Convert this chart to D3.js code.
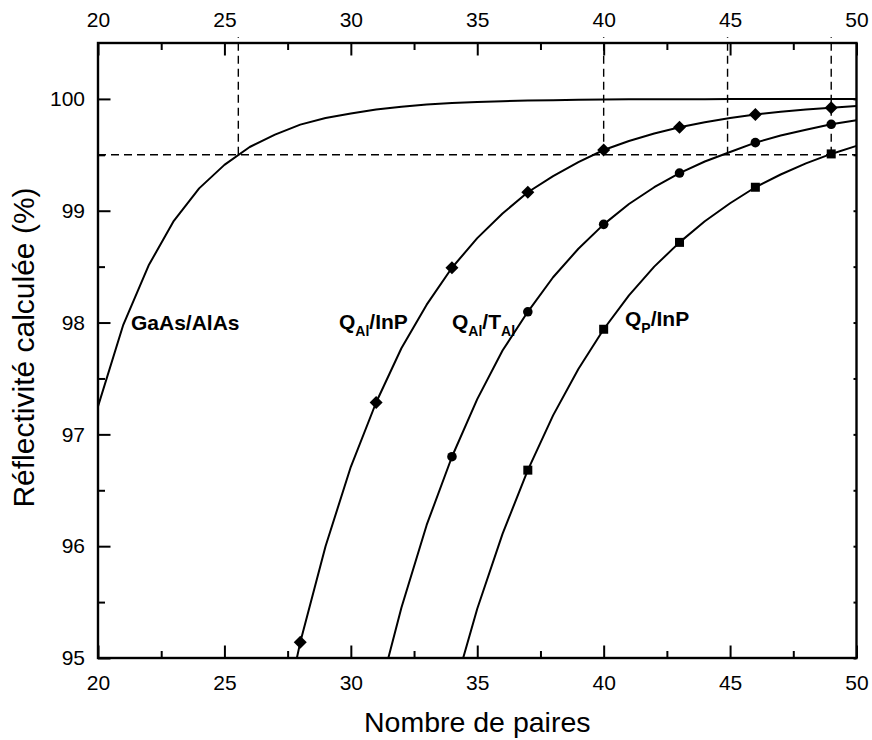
<!DOCTYPE html>
<html>
<head>
<meta charset="utf-8">
<script src="https://cdn.jsdelivr.net/npm/d3@7"></script>
<style>
  html, body { margin: 0; padding: 0; background: #fff; }
  svg { display: block; font-family: "Liberation Sans", Arial, sans-serif; }
</style>
</head>
<body>
<svg id="chart" width="872" height="740"></svg>
<script>
// Calculated reflectivity (%) versus number of mirror pairs
const gaasPairs = [20,21,22,23,24,25,26,27,28,29,30,31,32,33,34,35,36,37,38,39,40,41,42,43,44,45,46,47,48,49,50];
const gaasR     = [97.25,97.98,98.51,98.91,99.20,99.41,99.57,99.68,99.77,99.83,99.87,99.905,99.93,99.95,99.963,99.973,99.98,99.985,99.989,99.992,99.994,99.996,99.997,99.998,99.998,99.999,99.999,100,100,100,100];

const qalInpPairs = [27,28,29,30,31,32,33,34,35,36,37,38,39,40,41,42,43,44,45,46,47,48,49,50];
const qalInpR     = [94.10,95.14,96.00,96.71,97.285,97.77,98.16,98.49,98.755,98.975,99.165,99.31,99.435,99.543,99.624,99.69,99.747,99.792,99.829,99.86,99.885,99.905,99.922,99.936];
const qalInpMarkers = [28,31,34,37,40,43,46,49];

const qalTalPairs = [31,32,33,34,35,36,37,38,39,40,41,42,43,44,45,46,47,48,49,50];
const qalTalR     = [94.58,95.45,96.19,96.80,97.315,97.75,98.096,98.405,98.66,98.878,99.06,99.21,99.337,99.44,99.525,99.609,99.672,99.725,99.773,99.81];
const qalTalMarkers = [34,37,40,43,46,49];

const qpInpPairs = [34,35,36,37,38,39,40,41,42,43,44,45,46,47,48,49,50];
const qpInpR     = [94.65,95.44,96.11,96.68,97.17,97.585,97.94,98.243,98.50,98.717,98.906,99.067,99.21,99.324,99.423,99.508,99.58];
const qpInpMarkers = [37,40,43,46,49];

// Guide lines: 99.5 % level and the pair counts where each mirror reaches it
const targetR = 99.5;
const guidePairs = [25.55, 40, 44.9, 49];

const xTicks = [20,25,30,35,40,45,50];
const xMinor = [22.5,27.5,32.5,37.5,42.5,47.5];
const yTicks = [95,96,97,98,99,100];
const yMinor = [95.5,96.5,97.5,98.5,99.5];

const xLabel = "Nombre de paires";
const yLabel = "Réflectivité calculée (%)";

const W = 872, H = 740;
const m = { left: 98, right: 15.5, top: 43, bottom: 82 };
const svg = d3.select("#chart");

const x = d3.scaleLinear().domain([20, 50]).range([m.left, W - m.right]);
const y = d3.scaleLinear().domain([95, 100.5]).range([H - m.bottom, m.top]);

svg.append("defs").append("clipPath").attr("id", "plot")
  .append("rect")
  .attr("x", m.left).attr("y", m.top)
  .attr("width", W - m.left - m.right).attr("height", H - m.top - m.bottom);

// Dashed guides
const guides = svg.append("g")
  .attr("stroke", "#000").attr("stroke-width", 1.4)
  .attr("stroke-dasharray", "8,5").attr("fill", "none");
guides.append("line")
  .attr("x1", x(20)).attr("x2", x(50))
  .attr("y1", y(targetR)).attr("y2", y(targetR));
guides.selectAll("line.v").data(guidePairs).join("line")
  .attr("class", "v")
  .attr("x1", d => x(d)).attr("x2", d => x(d))
  .attr("y1", y(targetR)).attr("y2", m.top - 6);

// Curves
const line = d3.line().x(d => x(d[0])).y(d => y(d[1]));
const zip = (a, b) => a.map((v, i) => [v, b[i]]);
const curves = [
  zip(gaasPairs, gaasR),
  zip(qalInpPairs, qalInpR),
  zip(qalTalPairs, qalTalR),
  zip(qpInpPairs, qpInpR)
];
svg.append("g").attr("clip-path", "url(#plot)")
  .selectAll("path").data(curves).join("path")
  .attr("d", line)
  .attr("fill", "none").attr("stroke", "#000").attr("stroke-width", 2)
  .attr("stroke-linejoin", "round");

// Markers
const valueAt = (pairs, vals, n) => vals[pairs.indexOf(n)];
const mk = svg.append("g").attr("fill", "#000");
mk.selectAll("path.diamond").data(qalInpMarkers).join("path")
  .attr("class", "diamond")
  .attr("transform", d => `translate(${x(d)},${y(valueAt(qalInpPairs, qalInpR, d))})`)
  .attr("d", "M0,-6.5L6.5,0L0,6.5L-6.5,0Z");
mk.selectAll("circle").data(qalTalMarkers).join("circle")
  .attr("cx", d => x(d)).attr("cy", d => y(valueAt(qalTalPairs, qalTalR, d)))
  .attr("r", 4.8);
mk.selectAll("rect").data(qpInpMarkers).join("rect")
  .attr("x", d => x(d) - 4.5).attr("y", d => y(valueAt(qpInpPairs, qpInpR, d)) - 4.5)
  .attr("width", 9).attr("height", 9);

// Axes
function styleAxis(g) {
  g.select(".domain").remove();
  g.selectAll(".tick line").attr("stroke", "#000").attr("stroke-width", 2);
  g.selectAll("text").attr("font-size", 21).attr("fill", "#000");
}
const bottom = H - m.bottom, right = W - m.right;

svg.append("g").attr("transform", `translate(0,${bottom})`)
  .call(d3.axisBottom(x).tickValues(xTicks).tickSize(-12.5).tickPadding(17).tickFormat(d3.format("d")))
  .call(styleAxis);
svg.append("g").attr("transform", `translate(0,${bottom})`)
  .call(d3.axisBottom(x).tickValues(xMinor).tickSize(-7).tickFormat(""))
  .call(styleAxis);

svg.append("g").attr("transform", `translate(0,${m.top})`)
  .call(d3.axisTop(x).tickValues(xTicks).tickSize(-12.5).tickPadding(16).tickFormat(d3.format("d")))
  .call(styleAxis);
svg.append("g").attr("transform", `translate(0,${m.top})`)
  .call(d3.axisTop(x).tickValues(xMinor).tickSize(-7).tickFormat(""))
  .call(styleAxis);

svg.append("g").attr("transform", `translate(${m.left},0)`)
  .call(d3.axisLeft(y).tickValues(yTicks).tickSize(-12.5).tickPadding(13).tickFormat(d3.format("d")))
  .call(styleAxis);
svg.append("g").attr("transform", `translate(${m.left},0)`)
  .call(d3.axisLeft(y).tickValues(yMinor).tickSize(-7).tickFormat(""))
  .call(styleAxis);

svg.append("g").attr("transform", `translate(${right},0)`)
  .call(d3.axisRight(y).tickValues(yTicks.concat(yMinor)).tickSize(-3).tickFormat(""))
  .call(styleAxis);

// Frame
svg.append("rect")
  .attr("x", m.left).attr("y", m.top)
  .attr("width", right - m.left).attr("height", bottom - m.top)
  .attr("fill", "none").attr("stroke", "#000").attr("stroke-width", 2.4);

// Axis titles
svg.append("text")
  .attr("x", (m.left + right) / 2).attr("y", 732)
  .attr("text-anchor", "middle").attr("font-size", 28.5)
  .text(xLabel);
svg.append("text")
  .attr("transform", `translate(34,${(m.top + bottom) / 2 - 3}) rotate(-90)`)
  .attr("text-anchor", "middle").attr("font-size", 30)
  .text(yLabel);

// Series labels
const labels = [
  { x: 131, y: 330, parts: [["GaAs/AlAs", 0]] },
  { x: 339, y: 329, parts: [["Q", 0], ["Al", 1], ["/InP", 0]] },
  { x: 452, y: 329, parts: [["Q", 0], ["Al", 1], ["/T", 0], ["Al", 1]] },
  { x: 625, y: 326, parts: [["Q", 0], ["P", 1], ["/InP", 0]] }
];
labels.forEach(l => {
  const t = svg.append("text")
    .attr("x", l.x).attr("y", l.y)
    .attr("font-weight", "bold").attr("font-size", 21);
  let prevSub = 0;
  l.parts.forEach(([s, sub]) => {
    t.append("tspan")
      .attr("font-size", sub ? 14 : 21)
      .attr("dy", sub === prevSub ? 0 : (sub ? 6.5 : -6.5))
      .text(s);
    prevSub = sub;
  });
});
</script>
</body>
</html>
